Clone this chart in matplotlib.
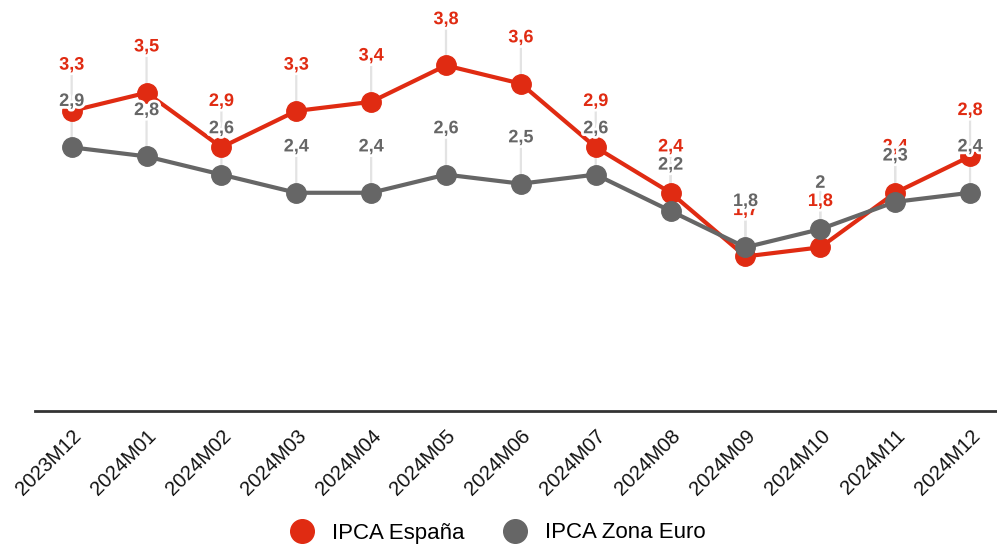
import matplotlib.pyplot as plt
import matplotlib.patheffects as pe
import matplotlib.transforms as mtransforms
from matplotlib.lines import Line2D

plt.rcParams['font.family'] = ['Liberation Sans', 'DejaVu Sans']

months = ['2023M12', '2024M01', '2024M02', '2024M03', '2024M04', '2024M05', '2024M06',
          '2024M07', '2024M08', '2024M09', '2024M10', '2024M11', '2024M12']
ipca_es = [3.3, 3.5, 2.9, 3.3, 3.4, 3.8, 3.6, 2.9, 2.4, 1.7, 1.8, 2.4, 2.8]
ipca_ez = [2.9, 2.8, 2.6, 2.4, 2.4, 2.6, 2.5, 2.6, 2.2, 1.8, 2.0, 2.3, 2.4]

red = '#e02b12'
grey = '#666666'

fig = plt.figure(figsize=(9.97, 5.47), dpi=100)
ax = fig.add_axes([35 / 997, 136 / 547, 962 / 997, 411 / 547])

x = list(range(len(months)))
ax.plot(x, ipca_es, color=red, lw=3, marker='o', ms=14, zorder=3)
ax.plot(x, ipca_ez, color=grey, lw=3, marker='o', ms=14, zorder=4)


def fmt(v):
    s = ('%.1f' % v).rstrip('0').rstrip('.')
    return s.replace('.', ',')


halo = [pe.withStroke(linewidth=4, foreground='white')]
for vals, col, z in [(ipca_es, red, 5), (ipca_ez, grey, 6)]:
    for i, v in enumerate(vals):
        # leader line from label down to the point
        ax.annotate('', xy=(i, v), xytext=(0, 27), textcoords='offset points',
                    arrowprops=dict(arrowstyle='-', color='#e3e3e3', lw=1.6,
                                    shrinkA=0, shrinkB=0), zorder=1)
        ax.annotate(fmt(v), xy=(i, v), xytext=(0, 33), textcoords='offset points',
                    ha='center', va='center', color=col, fontsize=13,
                    fontweight='bold', path_effects=halo, zorder=z)

ax.set_xlim(-0.49, 12.36)
ax.set_ylim(0, 4.52)
ax.set_yticks([])
ax.set_xticks(x)
ax.set_xticklabels(months, rotation=45, ha='right', rotation_mode='anchor',
                   fontsize=14.5, color='#111111')
offset = mtransforms.ScaledTranslation(2 / 72, 0, fig.dpi_scale_trans)
for lbl in ax.get_xticklabels():
    lbl.set_transform(lbl.get_transform() + offset)
ax.tick_params(axis='x', length=0, pad=11)
for s in ['top', 'right', 'left']:
    ax.spines[s].set_visible(False)
ax.spines['bottom'].set_color('#333333')
ax.spines['bottom'].set_linewidth(2)

handles = [Line2D([], [], color=red, marker='o', ls='none', ms=17),
           Line2D([], [], color=grey, marker='o', ls='none', ms=17)]
fig.legend(handles, ['IPCA España', 'IPCA Zona Euro'], loc='center',
           bbox_to_anchor=(0.5 - 6 / 997, 14 / 547), ncol=2, frameon=False,
           fontsize=16, handletextpad=0.35, columnspacing=1.25)

fig.savefig('out.png', dpi=100)
